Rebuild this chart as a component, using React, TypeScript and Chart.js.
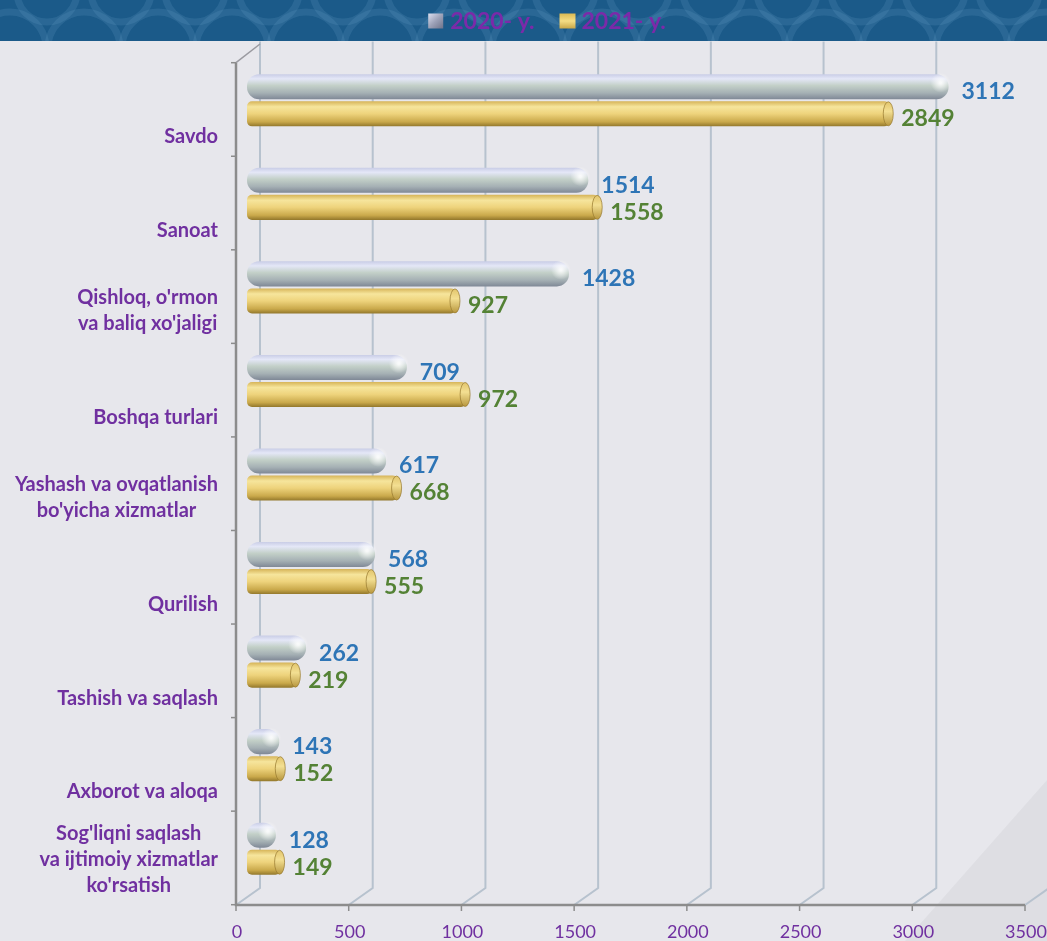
import { useEffect, useRef } from 'react';
import { Chart, registerables } from 'chart.js';

Chart.register(...registerables);

const categories: (string | string[])[] = [
  'Savdo',
  'Sanoat',
  ["Qishloq, o'rmon", "va baliq xo'jaligi"],
  'Boshqa turlari',
  ['Yashash va ovqatlanish', "bo'yicha xizmatlar"],
  'Qurilish',
  'Tashish va saqlash',
  'Axborot va aloqa',
  ["Sog'liqni saqlash", 'va ijtimoiy xizmatlar', "ko'rsatish"],
];
const series2020 = [3112, 1514, 1428, 709, 617, 568, 262, 143, 128];
const series2021 = [2849, 1558, 927, 972, 668, 555, 219, 152, 149];
const seriesLabels = ['2020- y.', '2021- y.'];
const xTicks = [0, 500, 1000, 1500, 2000, 2500, 3000, 3500];

const PURPLE = '#7030A0';
const LEGEND_PURPLE = '#7b2aa9';
const VALUE_COLORS = ['#2E75B6', '#548235'];
const FONT = 'Lato, "Open Sans", sans-serif';

function barFill(c: any, idx: number) {
  const chart = c.chart;
  const ys = chart.scales && chart.scales.y;
  if (!ys || !chart.chartArea || c.dataIndex === undefined) {
    return idx ? '#e8c862' : '#aab0c6';
  }
  const center = ys.getPixelForValue(c.dataIndex) + (idx ? 13.5 : -13.5);
  const g = chart.ctx.createLinearGradient(0, center - 12.5, 0, center + 12.5);
  if (idx === 0) {
    g.addColorStop(0, '#c9cde6');
    g.addColorStop(0.18, '#e4e7f7');
    g.addColorStop(0.45, '#c3d0c8');
    g.addColorStop(0.75, '#a5b0b4');
    g.addColorStop(1, '#7f8896');
  } else {
    g.addColorStop(0, '#d6b458');
    g.addColorStop(0.22, '#f6e59c');
    g.addColorStop(0.5, '#eed37c');
    g.addColorStop(0.82, '#caa94b');
    g.addColorStop(1, '#93782c');
  }
  return g;
}

const framePlugin = {
  id: 'frame3d',
  beforeDraw(chart: any) {
    const { ctx, width, height } = chart;
    ctx.save();
    ctx.fillStyle = '#e7e7ec';
    ctx.fillRect(0, 0, width, height);
    // header band
    ctx.fillStyle = '#1b5a89';
    ctx.fillRect(0, 0, width, 41);
    ctx.beginPath();
    ctx.rect(0, 0, width, 41);
    ctx.clip();
    ctx.strokeStyle = 'rgba(110,165,205,0.18)';
    ctx.lineWidth = 7;
    for (let i = 0; i < 16; i++) {
      ctx.beginPath();
      ctx.arc(i * 74 + 10, 48, 36, Math.PI, 2 * Math.PI);
      ctx.stroke();
      ctx.beginPath();
      ctx.arc(i * 74 + 47, -8, 30, 0, Math.PI);
      ctx.stroke();
    }
    ctx.restore();

    // floor shading bottom-right
    ctx.save();
    ctx.fillStyle = 'rgba(0,0,0,0.035)';
    ctx.beginPath();
    ctx.moveTo(width, 780);
    ctx.lineTo(width, height);
    ctx.lineTo(905, height);
    ctx.closePath();
    ctx.fill();
    ctx.restore();
  },
  beforeDatasetsDraw(chart: any) {
    const { ctx, chartArea: ca } = chart;
    const xs = chart.scales.x;
    const ys = chart.scales.y;
    const fx = (v: number) => xs.getPixelForValue(v) - 11;
    const bx = (v: number) => xs.getPixelForValue(v) + 13;
    const frontBottom = ca.bottom + 9.5;
    const frontTop = ca.top + 9.2;
    const backBottom = ca.bottom - 7.5;
    const backTop = ca.top - 12;

    ctx.save();
    // back gridlines + floor diagonals
    ctx.strokeStyle = '#b7c2ce';
    ctx.lineWidth = 2;
    xTicks.forEach((v) => {
      const x = bx(v);
      if (x > chart.width) return;
      ctx.beginPath();
      ctx.moveTo(x, backTop);
      ctx.lineTo(x, backBottom);
      ctx.lineTo(fx(v), frontBottom);
      ctx.stroke();
    });
    const last = xTicks[xTicks.length - 1];
    ctx.beginPath();
    ctx.moveTo(fx(last), frontBottom);
    ctx.lineTo(bx(last), backBottom);
    ctx.stroke();

    // left wall top diagonal
    ctx.strokeStyle = '#9a9aa0';
    ctx.lineWidth = 1.5;
    ctx.beginPath();
    ctx.moveTo(fx(0), frontTop);
    ctx.lineTo(bx(0), ca.top - 9.5);
    ctx.stroke();

    // front axes
    ctx.strokeStyle = '#8c8c8c';
    ctx.lineWidth = 2.5;
    ctx.beginPath();
    ctx.moveTo(fx(0), frontTop);
    ctx.lineTo(fx(0), frontBottom);
    ctx.lineTo(fx(last), frontBottom);
    ctx.stroke();
    ctx.lineWidth = 1.5;
    xTicks.forEach((v) => {
      ctx.beginPath();
      ctx.moveTo(fx(v), frontBottom);
      ctx.lineTo(fx(v), frontBottom + 6);
      ctx.stroke();
    });
    const half = (ys.getPixelForValue(1) - ys.getPixelForValue(0)) / 2;
    for (let i = 0; i <= categories.length; i++) {
      const y = ys.getPixelForValue(0) - half + i * 2 * half + 9.2;
      ctx.beginPath();
      ctx.moveTo(fx(0) - 5, y);
      ctx.lineTo(fx(0), y);
      ctx.stroke();
    }

    // x tick labels
    ctx.fillStyle = PURPLE;
    ctx.font = `18px ${FONT}`;
    ctx.textAlign = 'center';
    ctx.textBaseline = 'middle';
    xTicks.forEach((v) => {
      ctx.fillText(String(v), fx(v) + 1, frontBottom + 27);
    });

    // category labels
    ctx.font = `bold 20px ${FONT}`;
    const right = ca.left - 29;
    categories.forEach((lab, i) => {
      const lines = Array.isArray(lab) ? lab : [lab];
      const maxW = Math.max(...lines.map((l) => ctx.measureText(l).width));
      const c = ys.getPixelForValue(i) + 36.5;
      lines.forEach((l, j) => {
        const y = c - (lines.length - 1 - j) * 26;
        ctx.fillText(l, right - maxW / 2, y);
      });
    });

    // legend
    ctx.font = `bold 23px ${FONT}`;
    const w1 = ctx.measureText(seriesLabels[0]).width;
    const w2 = ctx.measureText(seriesLabels[1]).width;
    const box = 15;
    const total = box + 7 + w1 + 25 + box + 7 + w2;
    let x = 547 - total / 2;
    const ly = 21;
    const g1 = ctx.createLinearGradient(x, ly - 8, x + box, ly + 8);
    g1.addColorStop(0, '#dfe2f2');
    g1.addColorStop(0.5, '#9da2b8');
    g1.addColorStop(1, '#6c7188');
    ctx.fillStyle = g1;
    ctx.fillRect(x, ly - 7.5, box, box);
    ctx.fillStyle = LEGEND_PURPLE;
    ctx.textAlign = 'left';
    ctx.fillText(seriesLabels[0], x + box + 7, ly + 1);
    x += box + 7 + w1 + 25;
    const g2 = ctx.createLinearGradient(0, ly - 8, 0, ly + 8);
    g2.addColorStop(0, '#d8b650');
    g2.addColorStop(0.5, '#f4dd84');
    g2.addColorStop(1, '#c6a444');
    ctx.fillStyle = g2;
    ctx.fillRect(x, ly - 7.5, box + 1, box);
    ctx.fillStyle = LEGEND_PURPLE;
    ctx.fillText(seriesLabels[1], x + box + 7, ly + 1);
    ctx.restore();
  },
  afterDatasetsDraw(chart: any) {
    const { ctx } = chart;
    ctx.save();
    chart.getDatasetMeta(1).data.forEach((el: any) => {
      const g = ctx.createLinearGradient(0, el.y - 12, 0, el.y + 12);
      g.addColorStop(0, '#e2c56c');
      g.addColorStop(0.4, '#f3df92');
      g.addColorStop(1, '#b8973e');
      ctx.fillStyle = g;
      ctx.strokeStyle = 'rgba(150,120,45,0.7)';
      ctx.lineWidth = 1;
      ctx.beginPath();
      ctx.ellipse(el.x - 1, el.y, 5, 12, 0, 0, Math.PI * 2);
      ctx.fill();
      ctx.stroke();
    });
    chart.getDatasetMeta(0).data.forEach((el: any) => {
      const rg = ctx.createRadialGradient(el.x - 8, el.y - 4, 1, el.x - 8, el.y - 4, 10);
      rg.addColorStop(0, 'rgba(255,255,255,0.85)');
      rg.addColorStop(1, 'rgba(255,255,255,0)');
      ctx.fillStyle = rg;
      ctx.beginPath();
      ctx.arc(el.x - 8, el.y - 4, 10, 0, Math.PI * 2);
      ctx.fill();
    });
    ctx.font = `bold 23px ${FONT}`;
    ctx.textAlign = 'left';
    ctx.textBaseline = 'middle';
    [0, 1].forEach((d) => {
      const ds = chart.data.datasets[d];
      ctx.fillStyle = VALUE_COLORS[d];
      chart.getDatasetMeta(d).data.forEach((el: any, i: number) => {
        ctx.fillText(String(ds.data[i]), el.x + (d === 0 ? 13 : 12), el.y + 5);
      });
    });
    ctx.restore();
  },
};

export default function App() {
  const ref = useRef<HTMLCanvasElement | null>(null);
  useEffect(() => {
    if (!ref.current) return;
    const chart = new Chart(ref.current, {
      type: 'bar',
      data: {
        labels: categories as any,
        datasets: [
          {
            label: seriesLabels[0],
            data: series2020,
            backgroundColor: (c: any) => barFill(c, 0),
            borderRadius: 12,
            borderSkipped: false,
            categoryPercentage: 0.5786,
            barPercentage: 0.926,
          },
          {
            label: seriesLabels[1],
            data: series2021,
            backgroundColor: (c: any) => barFill(c, 1),
            borderRadius: 5,
            borderSkipped: false,
            categoryPercentage: 0.5786,
            barPercentage: 0.926,
          },
        ],
      },
      options: {
        indexAxis: 'y',
        responsive: false,
        animation: false,
        devicePixelRatio: 1,
        layout: { padding: { left: 247, right: 11, top: 53.5, bottom: 45.5 } },
        scales: {
          x: { type: 'linear', min: 0, max: 3500, display: false },
          y: { type: 'category', display: false, offset: true },
        },
        plugins: {
          legend: { display: false },
          tooltip: { enabled: false },
        },
      },
      plugins: [framePlugin],
    });
    return () => chart.destroy();
  }, []);
  return (
    <div style={{ position: 'fixed', left: 0, top: 0, width: 1047, height: 941 }}>
      <canvas ref={ref} width={1047} height={941} />
    </div>
  );
}
